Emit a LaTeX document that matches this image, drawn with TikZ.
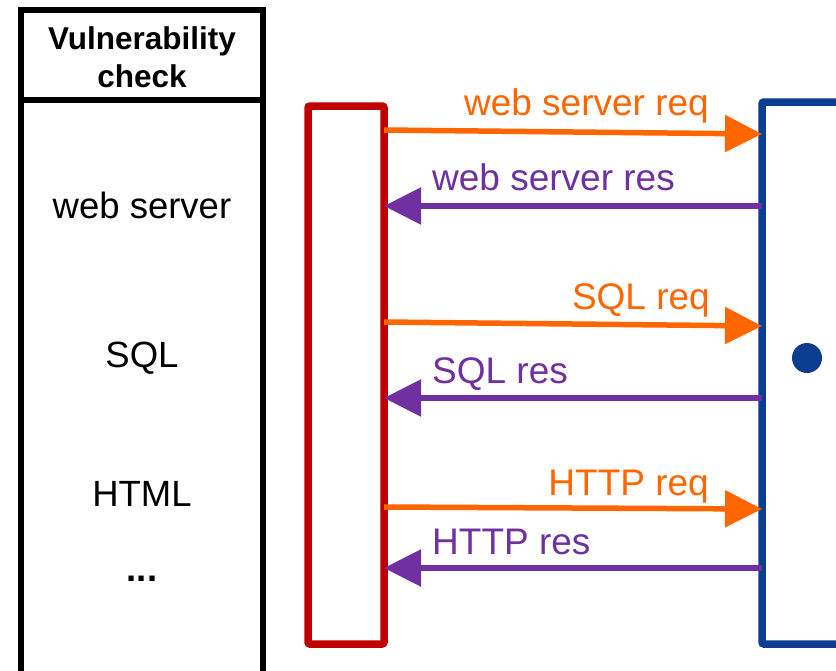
\documentclass[tikz,border=0pt]{standalone}
\usepackage{fontspec}
\setmainfont{Liberation Sans}
\usetikzlibrary{arrows.meta}
\definecolor{reqorange}{HTML}{FF6600}
\definecolor{respurple}{HTML}{7030A0}
\definecolor{clientred}{HTML}{C00000}
\definecolor{serverblue}{HTML}{0B3D91}
\begin{document}
\begin{tikzpicture}[x=1pt, y=-1pt, line join=miter,
  table line/.style={draw=black, line width=6pt},
  head node/.style={anchor=base, inner sep=0pt, font=\fontsize{31.5}{38}\selectfont\bfseries},
  item node/.style={anchor=base, inner sep=0pt, font=\fontsize{36.5}{43}\selectfont},
  box node/.style={rectangle, line width=7.5pt, rounded corners=2pt, fill=white, outer sep=0pt},
  req/.style={draw=reqorange, line width=5.5pt, -{Triangle[length=37pt,width=36pt]}},
  res/.style={draw=respurple, line width=5.5pt, -{Triangle[length=37pt,width=36pt]}},
  req label/.style={anchor=base east, inner sep=0pt, text=reqorange, font=\fontsize{37}{43}\selectfont},
  res label/.style={anchor=base west, inner sep=0pt, text=respurple, font=\fontsize{37}{43}\selectfont}]
\useasboundingbox (0,0) rectangle (836,670);
\clip (0,0) rectangle (836,670);
% check table
\draw[table line] (21,690) -- (21,10) -- (263,10) -- (263,690);
\draw[table line] (21,99.5) -- (263,99.5);
\begin{scope}
\node[head node] (h1) at (142,49) {Vulnerability};
\node[head node] (h2) at (142,87) {check};
\node[item node] (web) at (142,218) {web server};
\node[item node] (sql) at (142,367) {SQL};
\node[item node] (html) at (142,506) {HTML};
\node[item node] (more) at (142,581) {\bfseries ...};
\end{scope}
% the two sides
\node[box node, draw=clientred, minimum width=76pt, minimum height=538pt] (client) at (346,375) {};
\node[box node, draw=serverblue, minimum width=100pt, minimum height=542pt] (server) at (812,373) {};
\node[circle, fill=serverblue, minimum size=30pt, inner sep=0pt] (dot) at (807,358) {};
% messages
\draw[req] ([yshift=-24pt]client.north east) -- ([yshift=-32pt]server.north west);
\draw[res] ([yshift=-104pt]server.north west) -- ([yshift=-100pt]client.north east);
\draw[req] ([yshift=-216pt]client.north east) -- ([yshift=-224pt]server.north west);
\draw[res] ([yshift=-296pt]server.north west) -- ([yshift=-292pt]client.north east);
\draw[req] ([yshift=-401pt]client.north east) -- ([yshift=-407pt]server.north west);
\draw[res] ([yshift=-466pt]server.north west) -- ([yshift=-462pt]client.north east);
\node[req label] (l1) at (709,115) {web server req};
\node[res label] (l2) at (432,190) {web server res};
\node[req label] (l3) at (710,309) {SQL req};
\node[res label] (l4) at (432,383) {SQL res};
\node[req label] (l5) at (709,495) {HTTP req};
\node[res label] (l6) at (432,554) {HTTP res};
\end{tikzpicture}
\end{document}
